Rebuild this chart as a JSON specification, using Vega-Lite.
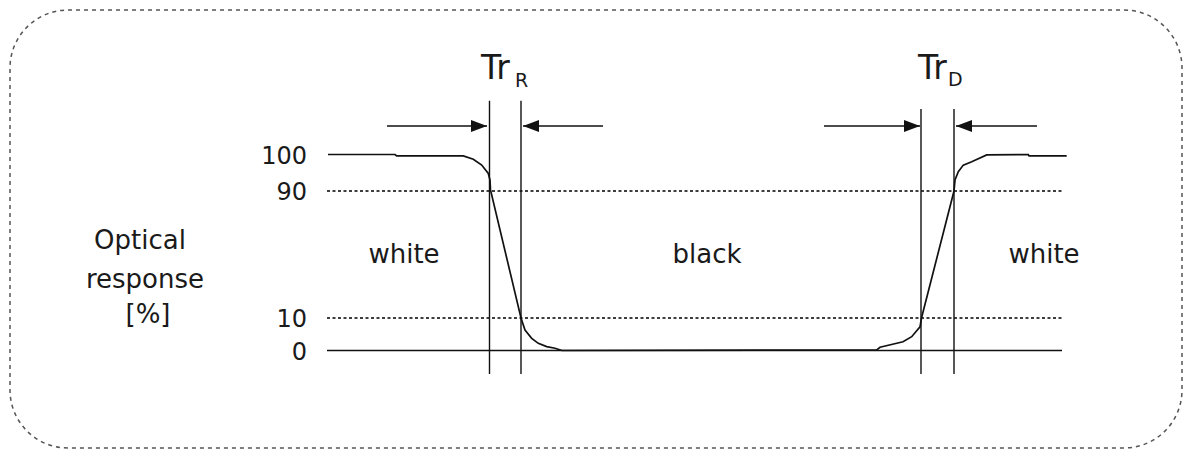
{
  "$schema": "https://vega.github.io/schema/vega-lite/v6.json",
  "width": 1172,
  "height": 438,
  "padding": {"left": 10, "top": 10, "right": 4, "bottom": 2},
  "background": "white",
  "config": {
    "view": {"stroke": "#555", "strokeDash": [4, 4], "strokeWidth": 1.5, "cornerRadius": 58},
    "text": {"font": "DejaVu Sans", "color": "#1a1a1a"}
  },
  "datasets": {
    "curve": [
      {"t": 328, "r": 100}, {"t": 395, "r": 100}, {"t": 396.7, "r": 99.6}, {"t": 463.3, "r": 99.6},
      {"t": 473.3, "r": 98.7}, {"t": 481.7, "r": 97.1}, {"t": 488.3, "r": 94.8}, {"t": 490, "r": 93.0},
      {"t": 490.5, "r": 90.3}, {"t": 521, "r": 10}, {"t": 525, "r": 6.3}, {"t": 531.7, "r": 3.75},
      {"t": 538.3, "r": 2.2}, {"t": 546.7, "r": 1.2}, {"t": 555, "r": 0.7}, {"t": 562, "r": 0},
      {"t": 876.7, "r": 0.2}, {"t": 880, "r": 1.0}, {"t": 903, "r": 2.7}, {"t": 911.7, "r": 4.25},
      {"t": 920, "r": 7.3}, {"t": 921.5, "r": 10}, {"t": 954, "r": 90}, {"t": 955, "r": 93.0},
      {"t": 958.3, "r": 95.3}, {"t": 963.3, "r": 97.1}, {"t": 971.7, "r": 98.0}, {"t": 986.7, "r": 99.9},
      {"t": 1028.3, "r": 100}, {"t": 1029, "r": 99.6}, {"t": 1066.7, "r": 99.6}
    ],
    "refs": [{"level": 90, "start": 327, "end": 1062}, {"level": 10, "start": 327, "end": 1062}],
    "base": [{"level": 0, "start": 327, "end": 1062}],
    "marks": [
      {"t": 489.5, "top": 114.7, "bottom": -7.2},
      {"t": 521, "top": 114.7, "bottom": -7.2},
      {"t": 921, "top": 112.5, "bottom": -7.2},
      {"t": 954, "top": 112.5, "bottom": -7.2}
    ],
    "arrows": [
      {"from": 387, "to": 487, "tip": 487, "dir": "right", "level": 107.8},
      {"from": 523, "to": 603, "tip": 523, "dir": "left", "level": 107.8},
      {"from": 824, "to": 920, "tip": 920, "dir": "right", "level": 107.8},
      {"from": 956, "to": 1037, "tip": 956, "dir": "left", "level": 107.8}
    ],
    "ticks": [
      {"t": 307, "level": 100, "label": "100"}, {"t": 307, "level": 90, "label": "90"},
      {"t": 307, "level": 10, "label": "10"}, {"t": 307, "level": 0, "label": "0"}
    ],
    "tr": [
      {"t": 481, "level": 120.7, "label": "Tr"},
      {"t": 918, "level": 120.7, "label": "Tr"}
    ],
    "sub": [
      {"t": 515, "level": 118.5, "label": "R"},
      {"t": 948, "level": 118.8, "label": "D"}
    ],
    "words": [
      {"t": 140, "level": 53.5, "label": "Optical"},
      {"t": 145, "level": 28.9, "label": "response"},
      {"t": 148, "level": 8.46, "label": "[%]"},
      {"t": 404, "level": 44.6, "label": "white"},
      {"t": 707, "level": 44.6, "label": "black"},
      {"t": 1044, "level": 44.6, "label": "white"}
    ]
  },
  "layer": [
    {
      "data": {"name": "refs"},
      "mark": {"type": "rule", "color": "#000", "strokeWidth": 1.5, "strokeDash": [3, 2.5]},
      "encoding": {
        "x": {"field": "start", "type": "quantitative", "scale": {"domain": [10, 1182], "nice": false, "zero": false}, "axis": null},
        "x2": {"field": "end"},
        "y": {"field": "level", "type": "quantitative", "scale": {"domain": [0, 10, 90, 100], "range": [340.5, 308, 181, 144.5], "nice": false, "zero": false}, "axis": null}
      }
    },
    {
      "data": {"name": "base"},
      "mark": {"type": "rule", "color": "#111", "strokeWidth": 1.4},
      "encoding": {
        "x": {"field": "start", "type": "quantitative", "axis": null},
        "x2": {"field": "end"},
        "y": {"field": "level", "type": "quantitative", "axis": null}
      }
    },
    {
      "data": {"name": "marks"},
      "mark": {"type": "rule", "color": "#111", "strokeWidth": 1.4},
      "encoding": {
        "x": {"field": "t", "type": "quantitative", "axis": null},
        "y": {"field": "top", "type": "quantitative", "axis": null},
        "y2": {"field": "bottom"}
      }
    },
    {
      "data": {"name": "curve"},
      "mark": {"type": "line", "color": "#111", "strokeWidth": 1.7},
      "encoding": {
        "x": {"field": "t", "type": "quantitative", "axis": null},
        "y": {"field": "r", "type": "quantitative", "axis": null}
      }
    },
    {
      "data": {"name": "arrows"},
      "mark": {"type": "rule", "color": "#111", "strokeWidth": 1.4},
      "encoding": {
        "x": {"field": "from", "type": "quantitative", "axis": null},
        "x2": {"field": "to"},
        "y": {"field": "level", "type": "quantitative", "axis": null}
      }
    },
    {
      "data": {"name": "arrows"},
      "mark": {"type": "point", "filled": true, "color": "#111", "opacity": 1, "size": 256},
      "encoding": {
        "x": {"field": "tip", "type": "quantitative", "axis": null},
        "y": {"field": "level", "type": "quantitative", "axis": null},
        "shape": {"field": "dir", "type": "nominal", "scale": {"domain": ["right", "left"], "range": ["M0,0L-2,-0.75L-2,0.75Z", "M0,0L2,-0.75L2,0.75Z"]}, "legend": null}
      }
    },
    {
      "data": {"name": "ticks"},
      "mark": {"type": "text", "align": "right", "baseline": "middle", "fontSize": 24, "dy": 2},
      "encoding": {
        "x": {"field": "t", "type": "quantitative", "axis": null},
        "y": {"field": "level", "type": "quantitative", "axis": null},
        "text": {"field": "label"}
      }
    },
    {
      "data": {"name": "tr"},
      "mark": {"type": "text", "align": "left", "baseline": "alphabetic", "fontSize": 33},
      "encoding": {
        "x": {"field": "t", "type": "quantitative", "axis": null},
        "y": {"field": "level", "type": "quantitative", "axis": null},
        "text": {"field": "label"}
      }
    },
    {
      "data": {"name": "sub"},
      "mark": {"type": "text", "align": "left", "baseline": "alphabetic", "fontSize": 19},
      "encoding": {
        "x": {"field": "t", "type": "quantitative", "axis": null},
        "y": {"field": "level", "type": "quantitative", "axis": null},
        "text": {"field": "label"}
      }
    },
    {
      "data": {"name": "words"},
      "mark": {"type": "text", "align": "center", "baseline": "alphabetic", "fontSize": 26},
      "encoding": {
        "x": {"field": "t", "type": "quantitative", "axis": null},
        "y": {"field": "level", "type": "quantitative", "axis": null},
        "text": {"field": "label"}
      }
    }
  ]
}
